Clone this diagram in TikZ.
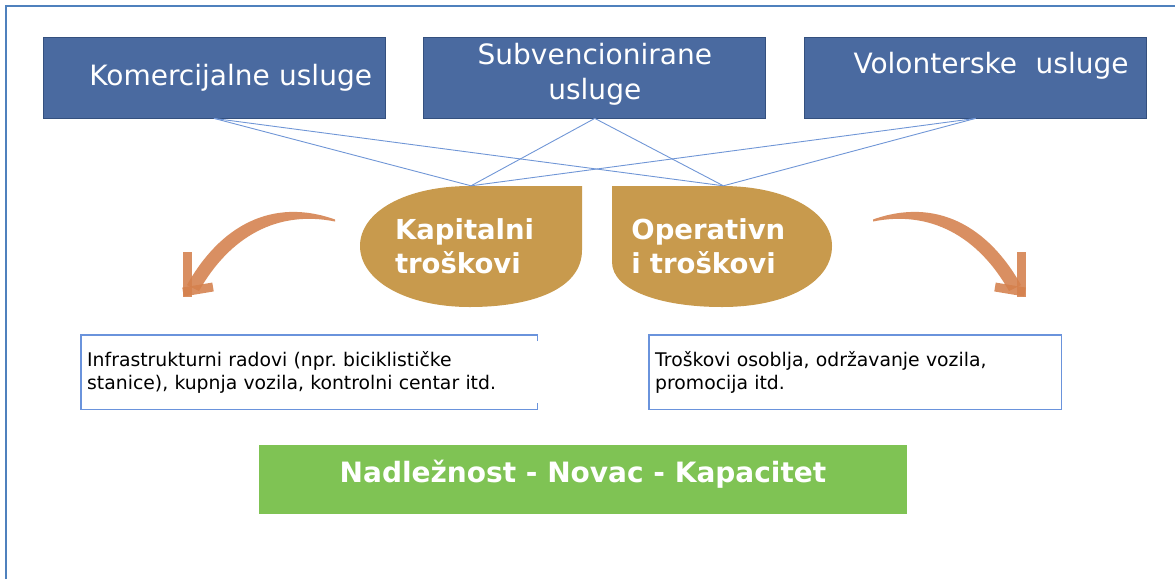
\documentclass[tikz,border=0pt]{standalone}
\usepackage{fontspec}
\setmainfont{DejaVu Sans}
\usetikzlibrary{positioning}

\definecolor{frameblue}{HTML}{4F81BD}
\definecolor{boxblue}{HTML}{4A6AA0}
\definecolor{boxedge}{HTML}{34507E}
\definecolor{linkblue}{HTML}{7096D6}
\definecolor{leafgold}{HTML}{C89A4D}
\definecolor{brushorange}{HTML}{D4804C}
\definecolor{descline}{HTML}{6A93DC}
\definecolor{nnkgreen}{HTML}{7FC354}

\begin{document}
\frenchspacing
\begin{tikzpicture}[x=1pt, y=-1pt,
    service/.style={draw=boxedge, line width=0.8pt, fill=boxblue, text=white,
        minimum width=342pt, minimum height=81pt,
        font=\fontsize{28}{35}\selectfont},
    cost/.style={text=white, minimum width=222pt, minimum height=121pt, align=left,
        font=\bfseries\fontsize{27.5}{34}\selectfont},
    link/.style={linkblue, line width=0.9pt},
    desc/.style={anchor=north west, minimum height=74pt, inner xsep=6pt, align=left,
        font=\fontsize{18.8}{23}\selectfont},
    descedge/.style={descline, line width=1.2pt},
    brush/.style={brushorange, opacity=0.88},
    ]
\useasboundingbox (0,0) rectangle (1175,579);

% frame
\draw[frameblue, line width=2pt] (5.5,579) -- (5.5,6) -- (1175,6);

% usluge
\node[service, text width=316pt, inner xsep=13pt, align=right] (kom) at (214,77.5) {Komercijalne usluge};
\node[service, text width=300pt, align=center, text depth=48pt, right=38pt of kom] (sub) {Subvencionirane\\usluge};
\node[service, text width=306pt, inner xsep=18pt, align=right, text depth=30pt, right=38pt of sub] (vol) {Volonterske\ \ usluge};

% leaf shapes
\fill[leafgold] (582,186) -- (582,250) .. controls (582,290) and (530,307) .. (470,307)
    .. controls (405,307) and (360,280) .. (360,246)
    .. controls (360,212) and (405,186) .. (470,186) -- cycle;
\fill[leafgold] (612,186) -- (722,186) .. controls (787,186) and (832,212) .. (832,246)
    .. controls (832,282) and (787,307) .. (722,307)
    .. controls (660,307) and (612,290) .. (612,262) -- cycle;

\node[cost, text width=152pt, inner xsep=35pt] (kap) at (471,246.5) {Kapitalni\\troškovi};
\node[cost, text width=184pt, inner xsep=19pt, right=30pt of kap] (ope) {Operativn\\i troškovi};

\foreach \s in {kom,sub,vol}
  \foreach \c in {kap,ope}
    \draw[link] (\s.south) -- (\c.north);

% brush arrows
\foreach \sx in {1,-1} {
  \begin{scope}[shift={(604,0)}, xscale=\sx]
    \fill[brush] (-269,219.5) .. controls (-332,197) and (-384,226) .. (-417,285)
        -- (-405,291) .. controls (-374,236) and (-326,210) .. (-269,221.5) -- cycle;
    \draw[brush, line width=9pt] (-417,252) -- (-417,297);
    \draw[brush, line width=9pt] (-421,292) -- (-391,287);
  \end{scope}
}

% opisi
\node[desc, text width=444pt] (kapdesc) at (81,335)
    {Infrastrukturni radovi (npr. biciklističke\\stanice), kupnja vozila, kontrolni centar itd.};
\draw[descedge] (kapdesc.north east) ++(0,6) -- (kapdesc.north east)
    -- (kapdesc.north west) -- (kapdesc.south west) -- (kapdesc.south east) -- ++(0,-6);
\node[desc, text width=400pt] (opedesc) at (649,335)
    {Troškovi osoblja, održavanje vozila,\\promocija itd.};
\draw[descedge] (opedesc.north west) rectangle (opedesc.south east);

\node[fill=nnkgreen, text=white, minimum width=648pt, minimum height=69pt, text depth=16pt,
    font=\bfseries\fontsize{28}{34}\selectfont] (nnk) at (583,479.5) {Nadležnost - Novac - Kapacitet};

\end{tikzpicture}
\end{document}
